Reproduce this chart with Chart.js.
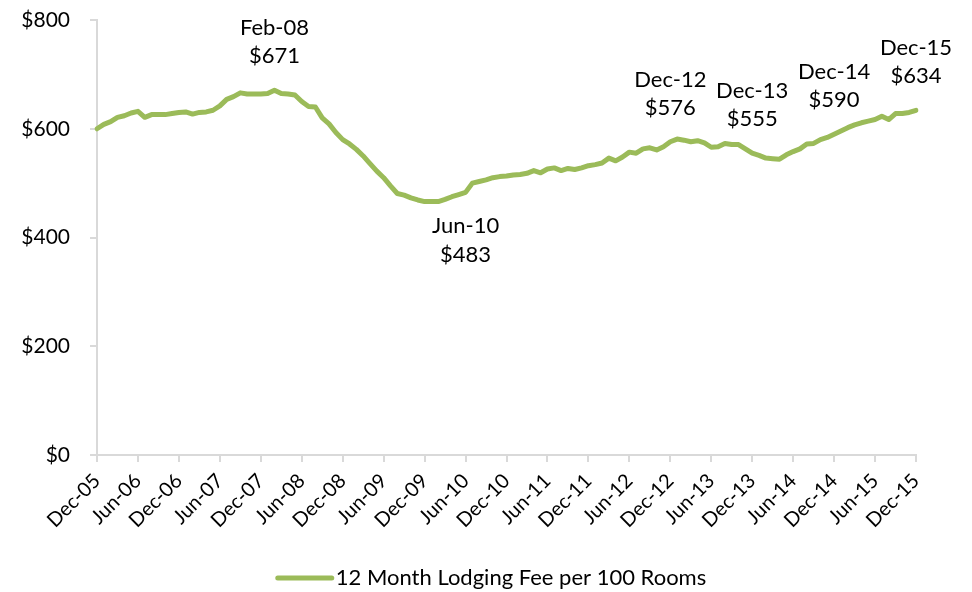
<!DOCTYPE html>
<html>
<head>
<meta charset="utf-8">
<script src="https://cdn.jsdelivr.net/npm/chart.js@4.4.1/dist/chart.umd.min.js"></script>
<style>
  html, body { margin: 0; padding: 0; background: #fff; }
  #wrap { width: 972px; height: 592px; }
</style>
</head>
<body>
<div id="wrap"><canvas id="fee_chart" width="972" height="592"></canvas></div>
<script>
// monthly categories Dec-05 .. Dec-15
var monthNames = ['Jan','Feb','Mar','Apr','May','Jun','Jul','Aug','Sep','Oct','Nov','Dec'];
var labels = ['Dec-05'];
for (var yr = 6; yr <= 15; yr++) {
    for (var m = 0; m < 12; m++) {
        labels.push(monthNames[m] + '-' + (yr < 10 ? '0' + yr : yr));
    }
}

// 12 month lodging fee per 100 rooms
var feeValues = [
    600,
    608, 613, 621, 624, 629, 632, 621, 626, 626, 626, 628, 630,   // 2006
    631, 627, 630, 631, 634, 642, 654, 659, 666, 664, 664, 664,   // 2007
    665, 671, 665, 664, 662, 650, 641, 640, 620, 609, 593, 580,   // 2008
    572, 562, 550, 536, 522, 510, 495, 481, 478, 473, 469, 466,   // 2009
    466, 466, 470, 475, 479, 483, 500, 503, 506, 510, 512, 513,   // 2010
    515, 516, 518, 523, 519, 526, 528, 523, 527, 525, 528, 532,   // 2011
    534, 537, 546, 541, 548, 557, 555, 563, 565, 561, 567, 576,   // 2012
    581, 579, 576, 578, 574, 566, 567, 573, 571, 571, 563, 555,   // 2013
    551, 546, 545, 544, 552, 558, 563, 572, 573, 580, 584, 590,   // 2014
    596, 602, 607, 611, 614, 617, 623, 617, 628, 628, 630, 634    // 2015
];

var yTicks = [0, 200, 400, 600, 800];
var calloutPoints = ['Feb-08', 'Jun-10', 'Dec-12', 'Dec-13', 'Dec-14', 'Dec-15'];
var seriesName = '12 Month Lodging Fee per 100 Rooms';

var FONT = 'Lato';
var AXIS_GREY = '#d9d9d9';
var LINE_GREEN = '#9BBB59';

// callouts: month on one line, value below; Jun-10 sits under the line
var calloutPlugin = {
    id: 'callouts',
    afterDatasetsDraw: function(chart) {
        var meta = chart.getDatasetMeta(0);
        var ctx = chart.ctx;
        ctx.save();
        ctx.font = '22px ' + FONT;
        ctx.fillStyle = '#000';
        ctx.textAlign = 'center';
        ctx.textBaseline = 'middle';
        calloutPoints.forEach(function(lbl) {
            var i = labels.indexOf(lbl);
            var pt = meta.data[i];
            var txt = '$' + feeValues[i];
            if (lbl === 'Jun-10') {
                ctx.fillText(lbl, pt.x, pt.y + 34);
                ctx.fillText(txt, pt.x, pt.y + 63);
            } else {
                ctx.fillText(lbl, pt.x, pt.y - 62);
                ctx.fillText(txt, pt.x, pt.y - 34);
            }
        });
        ctx.restore();
    }
};

// legend like the Excel one: short thick line then series name
var lineLegend = {
    id: 'lineLegend',
    afterDraw: function(chart) {
        var ds = chart.data.datasets[0];
        var ctx = chart.ctx;
        var y = 578;
        ctx.save();
        ctx.font = '22px ' + FONT;
        var tw = ctx.measureText(ds.label).width;
        var x0 = chart.width / 2 - (58 + tw) / 2 + 6;
        ctx.strokeStyle = ds.borderColor;
        ctx.lineWidth = ds.borderWidth;
        ctx.lineCap = 'round';
        ctx.beginPath();
        ctx.moveTo(x0, y);
        ctx.lineTo(x0 + 54, y);
        ctx.stroke();
        ctx.fillStyle = '#000';
        ctx.textAlign = 'left';
        ctx.textBaseline = 'middle';
        ctx.fillText(ds.label, x0 + 58, y);
        ctx.restore();
    }
};

var ctx = document.getElementById('fee_chart').getContext('2d');
new Chart(ctx, {
    type: 'line',
    data: {
        labels: labels,
        datasets: [{
            label: seriesName,
            data: feeValues,
            borderColor: LINE_GREEN,
            backgroundColor: LINE_GREEN,
            borderWidth: 5,
            pointRadius: 0,
            tension: 0,
            fill: false,
            borderCapStyle: 'round',
            borderJoinStyle: 'round'
        }]
    },
    options: {
        responsive: false,
        animation: false,
        layout: { padding: { top: 0, right: 56, left: 0, bottom: 0 } },
        plugins: {
            tooltip: { enabled: false },
            legend: { display: false }
        },
        scales: {
            x: {
                type: 'category',
                offset: false,
                border: { color: AXIS_GREY, width: 2 },
                grid: {
                    drawOnChartArea: false,
                    drawTicks: true,
                    tickLength: 7,
                    color: AXIS_GREY,
                    lineWidth: 2
                },
                ticks: {
                    autoSkip: false,
                    maxRotation: 45,
                    minRotation: 45,
                    padding: 7,
                    color: '#000',
                    font: { family: FONT, size: 20 },
                    callback: function(v, i) {
                        return i % 6 === 0 ? labels[i] : null;
                    }
                },
                afterFit: function(scale) { scale.height = 137; }
            },
            y: {
                min: 0,
                max: 800,
                border: { color: AXIS_GREY, width: 2 },
                grid: {
                    drawOnChartArea: false,
                    drawTicks: true,
                    tickLength: 7,
                    color: AXIS_GREY,
                    lineWidth: 2
                },
                afterBuildTicks: function(scale) {
                    scale.ticks = yTicks.map(function(v) { return { value: v }; });
                },
                ticks: {
                    padding: 20,
                    color: '#000',
                    font: { family: FONT, size: 21 },
                    callback: function(v) { return '$' + v; }
                },
                afterFit: function(scale) {
                    scale.width = 97;
                    scale.paddingTop = 20;
                    scale.paddingBottom = 0;
                }
            }
        }
    },
    plugins: [calloutPlugin, lineLegend]
});
</script>
</body>
</html>
